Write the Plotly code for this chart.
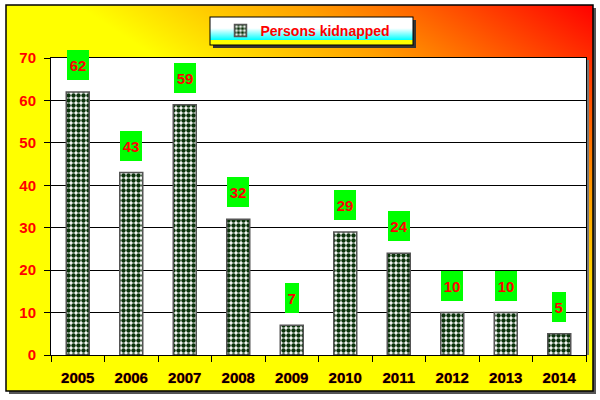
import base64
import plotly.graph_objects as go

years = ["2005", "2006", "2007", "2008", "2009", "2010", "2011", "2012", "2013", "2014"]
kidnapped = [62, 43, 59, 32, 7, 29, 24, 10, 10, 5]
series_name = "Persons kidnapped"
y_ticks = [0, 10, 20, 30, 40, 50, 60, 70]

W, H = 600, 400
ML, MR, MT, MB = 51, 14, 58, 45
PW, PH = W - ML - MR, H - MT - MB

svg = f'''<svg xmlns="http://www.w3.org/2000/svg" width="{W}" height="{H}" viewBox="0 0 {W} {H}">
<defs>
<linearGradient id="bg" x1="0" y1="1" x2="1" y2="0">
<stop offset="0" stop-color="#ffff00"/>
<stop offset="0.56" stop-color="#ffff00"/>
<stop offset="0.75" stop-color="#ffa000"/>
<stop offset="0.9" stop-color="#ff4000"/>
<stop offset="1" stop-color="#ff0000"/>
</linearGradient>
<linearGradient id="tb" x1="0" y1="0" x2="0" y2="1">
<stop offset="0" stop-color="#ffffff"/>
<stop offset="0.4" stop-color="#ffffff"/>
<stop offset="0.82" stop-color="#00ffff"/>
<stop offset="0.83" stop-color="#ffff00"/>
<stop offset="1" stop-color="#ffff00"/>
</linearGradient>
</defs>
<rect x="9" y="8" width="587" height="386" fill="#555"/>
<rect x="6" y="5" width="587" height="386" fill="url(#bg)" stroke="#000" stroke-width="1.5"/>
<rect x="{ML+3}" y="{MT+2}" width="{PW}" height="{PH-2}" fill="#777"/>
<rect x="{ML}" y="{MT}" width="{PW}" height="{PH}" fill="#ffffff"/>
<rect x="213" y="20" width="203" height="28" fill="#333"/>
<rect x="210" y="17" width="203" height="28" fill="url(#tb)" stroke="#000" stroke-width="1"/>
</svg>'''
src = "data:image/svg+xml;base64," + base64.b64encode(svg.encode()).decode()

fig = go.Figure()
fig.add_trace(go.Bar(
    x=years, y=kidnapped, name=series_name, width=0.43,
    marker=dict(
        color="white",
        line=dict(color="#555555", width=1.5),
        pattern=dict(shape=".", fgcolor="#0b330b", bgcolor="#ffffff",
                     size=5, solidity=0.62, fillmode="replace"),
    ),
    hoverinfo="x+y",
))

for i, v in enumerate(kidnapped):
    txt = str(v)
    fig.add_annotation(
        x=i, y=v, xref="x", yref="y", yanchor="bottom", yshift=12,
        text=f"<b>{txt}</b>", showarrow=False,
        font=dict(family="Arial", size=15, color="#ff0000"),
        bgcolor="#00ff00", borderpad=0, borderwidth=0,
        width=8.5 * len(txt) + 5, height=30, valign="middle",
    )

fig.update_layout(
    width=W, height=H,
    margin=dict(l=ML, r=MR, t=MT, b=MB, pad=0, autoexpand=False),
    paper_bgcolor="white", plot_bgcolor="rgba(0,0,0,0)",
    images=[dict(source=src, xref="paper", yref="paper",
                 x=-ML / PW, y=(H - MB) / PH, sizex=W / PW, sizey=H / PH,
                 xanchor="left", yanchor="top", sizing="stretch", layer="below")],
    showlegend=True,
    legend=dict(x=(308 - ML) / PW, y=(H - MB - 31) / PH, xanchor="center", yanchor="middle",
                bgcolor="rgba(0,0,0,0)", borderwidth=0, itemwidth=30,
                font=dict(family="Arial", size=14, color="#ff0000", weight="bold")),
)
fig.update_xaxes(
    type="category", range=[-0.5, len(years) - 0.5], automargin=False,
    showline=True, linecolor="black", linewidth=1, mirror=True,
    ticks="outside", ticklen=6, tickcolor="black", tickson="boundaries",
    showgrid=False, tickangle=0, ticklabelstandoff=9,
    tickfont=dict(family="Arial", size=15, color="#000000", weight="bold",
                  shadow="0px 0px 1px #ff0000"),
)
fig.update_yaxes(
    range=[0, 70], tickvals=y_ticks, automargin=False,
    showgrid=True, gridcolor="black", gridwidth=1,
    showline=True, linecolor="black", linewidth=1, mirror=True, zeroline=False,
    ticks="outside", ticklen=6, tickcolor="black", ticklabelstandoff=5,
    tickfont=dict(family="Arial", size=15, color="#ff0000", weight="bold"),
)

fig.write_html("out.html", config={"displayModeBar": False},
               post_script="document.body.style.margin='0';")
